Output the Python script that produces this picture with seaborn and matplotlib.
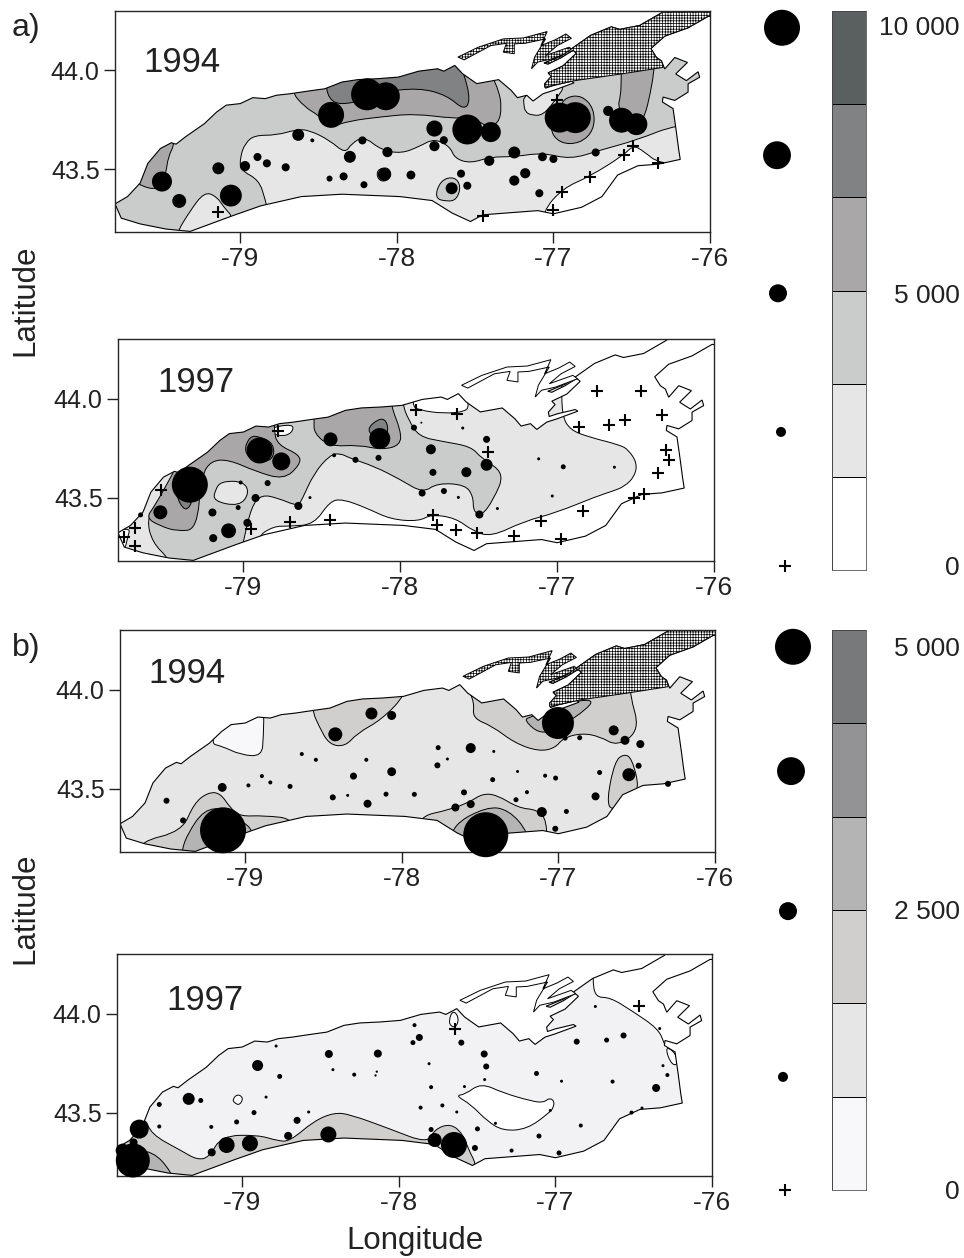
import numpy as np
import matplotlib
matplotlib.use('Agg')
import matplotlib.pyplot as plt
import seaborn as sns
from matplotlib.colors import ListedColormap
from matplotlib.patches import Polygon, PathPatch
from matplotlib.path import Path

# Lake Ontario outline and the two land shapes (lon, lat)
shore = [(-79.80,43.325),(-79.72,43.362),(-79.64,43.43),(-79.59,43.53),(-79.51,43.605),(-79.44,43.634),(-79.41,43.627),
         (-79.35,43.664),(-79.23,43.73),(-79.15,43.79),(-79.09,43.824),(-79.00,43.832),(-78.92,43.862),(-78.84,43.857),
         (-78.77,43.874),(-78.68,43.882),(-78.56,43.896),(-78.46,43.907),(-78.35,43.941),(-78.25,43.953),(-78.12,43.958),
         (-77.99,43.966),(-77.86,43.996),(-77.74,44.008),(-77.70,43.996),(-77.63,44.025),(-77.58,43.983),(-77.49,43.933),
         (-77.35,43.953),(-77.27,43.899),(-77.23,43.862),(-77.17,43.874),(-77.13,43.845),(-77.066,43.882),(-77.002,43.898),
         (-76.868,43.937),(-76.885,43.945),(-77.002,43.923),(-77.051,43.91),(-77.056,43.932),(-77.013,43.97),(-77.034,43.987),
         (-76.938,44.023),(-76.853,44.087),(-76.875,44.102),(-76.949,44.065),(-77.034,44.032),(-77.06,44.037),(-76.949,44.073),
         (-76.762,44.177),(-76.63,44.22),(-76.577,44.207),(-76.449,44.227),(-76.304,44.293),(-76.26,44.33),(-75.97,44.33),
         (-75.97,44.27),(-76.012,44.273),(-76.14,44.215),(-76.289,44.173),(-76.378,44.11),(-76.342,44.065),(-76.31,44.048),
         (-76.289,44.007),(-76.225,44.065),(-76.144,44.04),(-76.219,43.982),(-76.151,43.948),(-76.076,43.993),(-76.066,43.965),
         (-76.14,43.932),(-76.14,43.89),(-76.225,43.848),(-76.30,43.865),(-76.304,43.84),(-76.236,43.807),(-76.215,43.69),
         (-76.20,43.60),(-76.19,43.55),(-76.33,43.526),(-76.46,43.518),(-76.59,43.471),(-76.69,43.362),(-76.82,43.308),(-77.00,43.275),
         (-77.10,43.291),(-77.45,43.27),(-77.53,43.236),(-77.645,43.278),(-77.775,43.342),(-77.98,43.362),(-78.35,43.374),
         (-78.61,43.362),(-78.87,43.315),(-79.05,43.265),(-79.32,43.186),(-79.475,43.198),(-79.64,43.224),(-79.76,43.253)]
county = [(-77.056,43.915),(-77.056,43.932),(-77.013,43.97),(-77.034,43.987),(-76.938,44.023),(-76.853,44.087),(-76.875,44.102),
          (-76.949,44.065),(-77.034,44.032),(-77.06,44.037),(-76.949,44.073),(-76.762,44.177),(-76.63,44.22),(-76.577,44.207),
          (-76.449,44.227),(-76.304,44.293),(-76.26,44.33),(-75.97,44.33),(-75.97,44.27),(-76.012,44.273),(-76.14,44.215),
          (-76.289,44.173),(-76.378,44.11),(-76.342,44.065),(-76.31,44.048),(-76.298,44.015),(-76.565,43.982),(-76.863,43.948)]
bay = [(-77.61,44.067),(-77.48,44.117),(-77.32,44.159),(-77.19,44.164),(-77.04,44.196),(-77.08,44.125),(-76.99,44.154),
       (-76.92,44.184),(-76.885,44.162),(-76.975,44.125),(-77.05,44.075),(-76.90,44.117),(-76.87,44.10),(-77.01,44.058),
       (-77.10,44.042),(-77.14,44.008),(-77.12,44.067),(-77.05,44.159),(-77.18,44.137),(-77.25,44.134),(-77.25,44.084),
       (-77.32,44.092),(-77.30,44.137),(-77.40,44.125),(-77.57,44.053)]

# a) 1994 contours
a94_low = [(-77.07,43.286),(-76.94,43.404),(-76.77,43.463),(-76.55,43.572),(-76.49,43.622),(-76.42,43.589),(-76.33,43.53),
           (-76.0,43.5),(-75.9,44.35),(-79.9,44.35),(-79.9,43.15),(-77.07,43.15)]
a94_mid = [(-78.82,43.278),(-78.84,43.345),(-78.88,43.446),(-79.00,43.496),(-79.00,43.563),(-78.97,43.63),(-78.91,43.672),
           (-78.77,43.672),(-78.64,43.701),(-78.56,43.698),(-78.43,43.647),(-78.33,43.58),(-78.29,43.63),(-78.21,43.667),
           (-78.10,43.597),(-77.97,43.58),(-77.86,43.614),(-77.76,43.656),(-77.66,43.614),(-77.63,43.555),(-77.53,43.53),
           (-77.40,43.563),(-77.25,43.563),(-77.07,43.584),(-76.89,43.55),(-76.70,43.597),(-76.47,43.647),(-76.21,43.728),
           (-75.9,43.73),(-75.9,44.35),(-79.9,44.35),(-79.9,43.15),(-78.82,43.15)]
a94_sw_low = [(-79.40,43.186),(-79.33,43.278),(-79.23,43.387),(-79.15,43.362),(-79.10,43.303),(-79.04,43.253),(-79.13,43.15),(-79.40,43.15)]
a94_ne_low = [(-77.19,43.87),(-77.19,43.83),(-77.18,43.79),(-77.14,43.773),(-77.065,43.773),(-76.98,43.857),(-76.92,43.93),(-77.03,43.95)]
a94_isle1 = [(-77.76,43.354),(-77.72,43.446),(-77.63,43.463),(-77.59,43.412),(-77.62,43.345),(-77.68,43.337)]
a94_isle2 = [(-78.13,43.496),(-78.06,43.513),(-78.03,43.471),(-78.07,43.437),(-78.12,43.446)]
a94_high = [(-78.68,43.899),(-78.59,43.815),(-78.50,43.773),(-78.42,43.714),(-78.30,43.745),(-78.10,43.765),(-77.89,43.781),
            (-77.63,43.756),(-77.57,43.765),(-77.53,43.773),(-77.43,43.714),(-77.35,43.731),(-77.33,43.815),(-77.35,43.899),
            (-77.39,43.966),(-77.39,44.10),(-78.68,44.10)]
a94_top = [(-78.46,43.933),(-78.42,43.832),(-78.28,43.832),(-78.10,43.89),(-77.86,43.912),(-77.68,43.874),(-77.57,43.798),
           (-77.53,43.849),(-77.57,43.983),(-77.63,44.10),(-78.46,44.10)]
a94_east = [(-76.565,44.10),(-76.567,43.96),(-76.57,43.873),(-76.592,43.807),(-76.47,43.689),(-76.415,43.773),(-76.384,43.873),
            (-76.358,43.99),(-76.35,44.10)]
a94_oval = [(-76.96,43.815),(-76.92,43.865),(-76.82,43.874),(-76.74,43.807),(-76.74,43.698),(-76.83,43.63),(-76.96,43.63),(-77.03,43.706)]
a94_west = [(-79.75,43.513),(-79.66,43.42),(-79.51,43.392),(-79.475,43.48),(-79.46,43.563),(-79.42,43.627),(-79.44,43.656)]

a94_lon = [-79.50,-79.39,-79.14,-79.06,-78.97,-78.89,-78.83,-78.71,-78.63,-78.54,-78.43,-78.34,-78.30,-78.42,-78.19,-78.07,
           -78.22,-78.06,-78.21,-78.08,-77.91,-77.76,-77.76,-77.70,-77.59,-77.55,-77.65,-77.55,-77.40,-77.41,-77.25,-77.07,
           -77.00,-77.18,-77.25,-77.09,-76.73,-76.96,-76.86,-76.65,-76.565,-76.47]
a94_lat = [43.438,43.34,43.505,43.367,43.516,43.562,43.53,43.51,43.674,43.646,43.453,43.464,43.563,43.775,43.879,43.869,
           43.646,43.587,43.422,43.474,43.471,43.706,43.617,43.647,43.478,43.417,43.404,43.701,43.688,43.543,43.585,43.563,
           43.552,43.48,43.443,43.379,43.585,43.761,43.761,43.795,43.748,43.728]
a94_val = [3100,1500,1100,3700,800,500,500,500,1100,120,280,500,1100,5200,7900,6000,
           500,800,380,1300,600,2000,800,500,500,500,1100,6900,3100,800,1100,600,
           500,800,800,500,500,6900,7400,800,4800,3700]
a94_zero_lon = [-79.14,-77.45,-77.00,-76.945,-76.765,-76.55,-76.49,-76.33,-76.98]
a94_zero_lat = [43.283,43.266,43.295,43.387,43.463,43.572,43.617,43.53,43.852]

# a) 1997 contours
a97_low = [(-76.97,43.917),(-76.918,43.842),(-76.79,43.805),(-76.60,43.767),(-76.545,43.742),(-76.49,43.675),(-76.506,43.609),
           (-76.57,43.558),(-76.648,43.534),(-76.75,43.508),
           (-77.01,43.425),(-77.21,43.383),(-77.42,43.305),(-77.535,43.333),(-77.65,43.40),(-77.805,43.417),(-77.88,43.383),
           (-78.06,43.392),(-78.216,43.45),(-78.37,43.495),(-78.45,43.483),(-78.55,43.367),(-78.705,43.358),(-78.81,43.358),
           (-78.92,43.30),(-78.92,43.14),(-79.91,43.14),(-79.91,44.35),(-77.93,44.342),(-77.93,43.967),(-77.88,43.942),
           (-77.727,43.925),(-77.586,43.934),(-77.56,43.967),(-77.60,44.09),(-76.97,44.09)]
a97_white = [(-78.86,43.847),(-78.77,43.808),(-78.69,43.825),(-78.68,43.875)]
a97_tip = [(-79.82,43.33),(-79.72,43.35),(-79.74,43.30),(-79.755,43.24),(-79.82,43.24)]
a97_mid = [(-77.985,43.967),(-77.946,43.892),(-77.882,43.809),(-77.728,43.784),(-77.548,43.759),(-77.483,43.70),(-77.334,43.625),
           (-77.406,43.492),(-77.483,43.408),(-77.535,43.434),(-77.535,43.508),(-77.586,43.567),(-77.766,43.575),(-77.856,43.525),
           (-77.998,43.592),(-78.165,43.659),(-78.32,43.70),(-78.383,43.725),(-78.448,43.717),(-78.55,43.625),(-78.627,43.492),
           (-78.653,43.458),(-78.782,43.50),(-78.885,43.517),(-78.949,43.458),(-79.00,43.283),(-79.04,43.142),(-79.476,43.142),
           (-79.476,43.195),(-79.58,43.275),(-79.617,43.392),(-79.553,43.475),(-79.489,43.558),(-79.437,43.625),(-79.437,44.09),
           (-77.985,44.09)]
a97_hole = [(-79.18,43.542),(-79.142,43.584),(-79.0,43.584),(-78.962,43.525),(-79.026,43.458),(-79.193,43.484)]
a97_north = [(-78.55,43.892),(-78.55,43.825),(-78.448,43.759),(-78.268,43.767),(-78.113,43.742),(-77.998,43.767),(-77.998,43.842),
             (-78.062,43.967),(-78.062,44.09),(-78.55,44.09)]
a97_west = [(-78.807,43.842),(-78.782,43.767),(-78.64,43.717),(-78.64,43.667),(-78.743,43.592),(-78.923,43.634),(-79.09,43.692),
            (-79.206,43.689),(-79.27,43.608),(-79.296,43.342),(-79.424,43.333),(-79.527,43.358),(-79.622,43.40),(-79.566,43.459),
            (-79.45,43.625),(-79.45,44.09),(-78.807,44.09)]
a97_peak1 = [(-78.96,43.812),(-79.0,43.734),(-78.923,43.675),(-78.807,43.692),(-78.807,43.775),(-78.897,43.809)]
a97_peak2 = [(-78.22,43.842),(-78.139,43.90),(-78.088,43.892),(-78.075,43.825),(-78.139,43.792)]
a97_peak3 = [(-79.437,43.525),(-79.373,43.425),(-79.316,43.492),(-79.316,43.625),(-79.424,43.625)]

a97_lon = [-79.342,-79.53,-79.656,-79.198,-79.193,-79.095,-79.018,-79.034,-78.975,-78.923,-78.846,-78.897,-78.759,-78.65,-78.576,
           -78.445,-78.422,-78.286,-78.139,-78.131,-77.913,-77.866,-77.602,-77.45,-77.805,-77.792,-77.579,-77.45,-77.861,-77.722,
           -77.63,-77.496,-77.381,-77.118,-76.961,-76.635,-77.031]
a97_lat = [43.567,43.428,43.415,43.427,43.298,43.335,43.578,43.452,43.375,43.50,43.575,43.739,43.684,43.46,43.502,
           43.795,43.715,43.692,43.702,43.799,43.854,43.879,43.852,43.795,43.745,43.629,43.63,43.667,43.525,43.535,
           43.503,43.417,43.447,43.697,43.657,43.655,43.51]
a97_val = [10000,1500,190,500,500,1700,120,190,500,500,280,5200,2500,500,70,
           1500,120,280,280,3400,280,30,70,380,770,380,770,1100,380,280,
           70,500,70,70,190,70,70]
a97_zero_lon = [-79.759,-79.694,-79.694,-79.527,-78.949,-78.705,-78.448,-78.782,-77.90,-77.638,-77.44,-77.792,-77.766,-77.645,-77.509,
                -77.278,-77.103,-76.974,-76.835,-76.512,-76.447,-76.357,-76.285,-76.308,-76.332,-76.465,-76.745,-76.861,-76.671,-76.565]
a97_zero_lat = [43.305,43.35,43.258,43.542,43.342,43.38,43.388,43.837,43.945,43.922,43.73,43.415,43.362,43.337,43.322,
                43.308,43.383,43.295,43.437,43.50,43.522,43.624,43.689,43.739,43.92,44.04,44.037,43.857,43.865,43.89]

# b) 1994 contours
b94_white = [(-79.23,43.73),(-79.10,43.90),(-78.88,43.92),(-78.884,43.765),(-78.894,43.664),(-79.03,43.672),(-79.147,43.715)]
b94_north = [(-78.575,43.899),(-78.529,43.815),(-78.464,43.723),(-78.361,43.714),(-78.284,43.781),(-78.129,43.849),(-77.97,43.979),
             (-77.97,44.10),(-78.575,44.10)]
b94_ne = [(-77.588,44.025),(-77.536,43.933),(-77.549,43.857),(-77.42,43.815),(-77.279,43.731),(-77.124,43.689),(-77.021,43.706),
          (-76.97,43.756),(-76.854,43.781),(-76.737,43.765),(-76.622,43.714),(-76.48,43.798),(-76.544,43.974),(-76.544,44.10),(-77.588,44.10)]
b94_ne_in = [(-77.227,43.849),(-77.098,43.765),(-76.905,43.849),(-76.738,43.963),(-77.047,43.916),(-77.163,43.865)]
b94_east = [(-76.64,43.639),(-76.583,43.676),(-76.531,43.656),(-76.48,43.496),(-76.557,43.454),(-76.66,43.387),(-76.691,43.446)]
b94_sw = [(-79.675,43.236),(-79.405,43.286),(-79.327,43.429),(-79.237,43.483),(-79.16,43.48),(-79.095,43.404),(-79.031,43.362),
          (-78.889,43.367),(-78.67,43.349),(-78.67,43.144),(-79.675,43.144)]
b94_sw_in = [(-79.405,43.194),(-79.366,43.278),(-79.263,43.396),(-79.134,43.404),(-79.031,43.345),(-78.941,43.286),(-78.941,43.144),(-79.405,43.144)]
b94_se = [(-77.91,43.359),(-77.691,43.396),(-77.562,43.437),(-77.485,43.476),(-77.395,43.471),(-77.253,43.404),(-77.137,43.396),
          (-77.073,43.345),(-77.073,43.144),(-77.91,43.144)]
b94_se_in = [(-77.691,43.312),(-77.459,43.412),(-77.317,43.396),(-77.188,43.278),(-77.188,43.144),(-77.691,43.144)]

b94_lon = [-79.503,-79.397,-79.147,-79.142,-78.98,-78.894,-78.84,-78.714,-78.639,-78.549,-78.425,-78.194,-78.065,-78.227,-78.065,
           -78.309,-78.441,-78.346,-78.219,-78.101,-77.92,-77.768,-77.773,-77.709,-77.56,-77.413,-77.42,-77.261,-77.085,-77.018,
           -77.201,-77.271,-77.603,-77.658,-77.56,-77.464,-77.106,-76.949,-77.02,-77.003,-76.957,-76.864,-76.647,-76.575,-76.477,
           -76.488,-76.55,-76.737,-76.763,-76.30]
b94_lat = [43.441,43.342,43.508,43.292,43.518,43.565,43.533,43.513,43.676,43.647,43.775,43.88,43.87,43.647,43.587,
           43.565,43.458,43.468,43.426,43.474,43.473,43.708,43.619,43.651,43.706,43.689,43.547,43.588,43.567,43.555,
           43.484,43.446,43.483,43.407,43.424,43.27,43.384,43.387,43.30,43.832,43.756,43.758,43.795,43.745,43.726,
           43.617,43.572,43.583,43.463,43.526]
b94_val = [139,139,300,8160,62,62,62,96,62,62,756,555,312,62,300,
           190,139,35,247,96,96,96,139,35,386,35,96,35,62,96,
           62,96,139,247,247,7800,386,96,139,3950,96,96,386,312,247,
           139,650,96,247,139]

# b) 1997 contours
b97_low = [(-76.762,44.177),(-76.747,44.082),(-76.651,44.082),(-76.513,44.015),(-76.342,43.923),(-76.304,43.848),
           (-75.9,43.842),(-75.9,43.14),(-79.95,43.14),(-79.95,44.35),(-76.762,44.35)]
b97_hole1 = [(-76.30,43.837),(-76.232,43.803),(-76.219,43.737),(-76.267,43.751)]
b97_hole2 = [(-77.637,43.588),(-77.578,43.593),(-77.475,43.651),(-77.334,43.601),(-77.154,43.56),(-77.077,43.552),(-77.038,43.576),
             (-77.007,43.56),(-77.013,43.527),(-77.038,43.502),(-77.18,43.419),(-77.334,43.41),(-77.437,43.46),(-77.54,43.543)]
b97_hole3 = [(-79.062,43.568),(-79.031,43.596),(-78.992,43.576),(-79.018,43.538),(-79.051,43.552)]
b97_hole4 = [(-77.681,43.967),(-77.655,44.017),(-77.617,43.983),(-77.63,43.934),(-77.668,43.934)]
b97_band = [(-79.905,43.485),(-79.905,43.14),(-77.501,43.14),(-77.509,43.248),(-77.552,43.311),(-77.591,43.394),(-77.668,43.447),
            (-77.771,43.419),(-77.817,43.347),(-78.054,43.419),(-78.311,43.493),(-78.414,43.502),(-78.542,43.46),(-78.697,43.357),
            (-78.774,43.36),(-78.902,43.39),(-79.134,43.385),(-79.211,43.277),(-79.288,43.264),(-79.391,43.311),(-79.584,43.394),
            (-79.622,43.485)]
b97_tip = [(-79.751,43.311),(-79.571,43.311),(-79.447,43.198),(-79.447,43.14),(-79.751,43.14)]

b97_lon = [-79.699,-79.764,-79.694,-79.658,-79.53,-79.53,-79.342,-79.265,-79.198,-79.195,-79.10,-78.951,-79.036,-78.925,-78.848,
           -78.65,-78.576,-78.707,-78.45,-78.902,-78.761,-78.784,-78.447,-78.421,-78.285,-78.134,-78.141,-78.149,-77.90,-77.869,
           -77.91,-77.601,-77.455,-77.442,-77.807,-77.794,-77.581,-77.452,-77.861,-77.722,-77.63,-77.498,-77.794,-77.771,-77.648,
           -77.514,-77.383,-77.28,-77.105,-76.977,-76.838,-77.121,-76.961,-76.635,-77.033,-76.745,-76.864,-76.673,-76.565,-76.334,
           -76.313,-76.285,-76.357,-76.514,-76.447]
b97_lat = [43.261,43.311,43.352,43.419,43.543,43.432,43.571,43.563,43.43,43.302,43.339,43.347,43.455,43.502,43.58,
           43.463,43.505,43.385,43.392,43.739,43.684,43.837,43.797,43.718,43.693,43.799,43.708,43.689,43.942,43.88,
           43.854,43.854,43.797,43.734,43.748,43.63,43.633,43.668,43.527,43.538,43.505,43.42,43.417,43.364,43.339,
           43.324,43.448,43.311,43.384,43.299,43.437,43.699,43.66,43.658,43.513,44.036,43.859,43.867,43.89,43.925,
           43.738,43.691,43.626,43.502,43.525]
b97_val = [4460,750,247,1390,96,62,555,96,62,247,988,988,96,96,35,
           190,35,247,988,470,96,35,247,35,62,247,20,20,62,190,
           96,139,190,139,35,62,35,35,62,62,35,96,96,756,2600,
           139,35,62,96,96,62,96,35,62,35,35,139,96,139,35,
           35,62,247,62,35]
b97_zero_lon = [-77.643,-76.465]
b97_zero_lat = [43.925,44.04]

# scale legends
a_colors = ['#5a5f60', '#808284', '#a9a7a8', '#cacccb', '#e6e6e6', '#ffffff']
b_colors = ['#77797a', '#939395', '#b4b4b4', '#d0cfcd', '#e6e6e6', '#f8f8fa']
a_key_vals = [10000, 6000, 2500, 770]
b_key_vals = [5000, 3000, 1250, 385]
a_scale_labels = ['10 000', '5 000', '0']
b_scale_labels = ['5 000', '2 500', '0']
lat_ticks = [44.0, 43.5]
lon_ticks = [-79, -78, -77, -76]

W, H = 964, 1258
TEXT = '#222222'
TOP_AREA = 672  # marker area (pt^2) of the largest key circle

sns.set_style('ticks')
plt.rcParams['font.family'] = ['Liberation Sans', 'DejaVu Sans']
plt.rcParams['hatch.linewidth'] = 0.5


def px_axes(fig, left, top, right, bottom):
    return fig.add_axes([left / W, 1 - bottom / H, (right - left) / W, (bottom - top) / H])


def contour_path(pts):
    # round the contour lines, but keep the corners that lie far outside the lake
    pts = np.array(pts, dtype=float)
    n = len(pts)
    verts = [(pts[-1] + pts[0]) / 2]
    codes = [Path.MOVETO]
    for i in range(n):
        p, nxt, prev = pts[i], pts[(i + 1) % n], pts[i - 1]
        longest = max(np.hypot(*(p - nxt)), np.hypot(*(p - prev)))
        codes += [Path.LINETO, Path.LINETO] if longest > 0.4 else [Path.CURVE3, Path.CURVE3]
        verts += [p, (p + nxt) / 2]
    return Path(verts, codes)


def draw_circles(ax, x, y, val, vmax, **kws):
    # seaborn clips at the norm limits, so leave room above the key's top class
    sns.scatterplot(x=x, y=y, size=val, sizes=(0, TOP_AREA * 2), size_norm=(0, vmax * 2), color='black',
                    linewidth=0, legend=False, clip_on=False, ax=ax, **kws)


def draw_zones(ax, base, zones):
    outline = Polygon(shore, closed=True, facecolor=base, edgecolor='none', zorder=1)
    ax.add_patch(outline)
    for color, pts in zones:
        patch = PathPatch(contour_path(pts), facecolor=color, edgecolor='black', lw=0.7, zorder=1.5)
        ax.add_patch(patch)
        patch.set_clip_path(outline)
    ax.add_patch(Polygon(shore, closed=True, facecolor='none', edgecolor='black', lw=0.8, zorder=2))


def draw_map(ax, base, zones, year, year_pos, lon, lat, val, vmax, zero=None, hatched=False):
    draw_zones(ax, base, zones)
    style = dict(facecolor='white', edgecolor='black', lw=0.7, zorder=2.2)
    ax.add_patch(Polygon(bay, closed=True, hatch='++++++' if hatched else None, **style))
    if hatched:
        ax.add_patch(Polygon(county, closed=True, hatch='++++++', **style))
    draw_circles(ax, lon, lat, val, vmax, zorder=5)
    if zero is not None:
        sns.scatterplot(x=zero[0], y=zero[1], marker='+', s=75, color='black', linewidth=1.5,
                        legend=False, zorder=5, ax=ax)
    ax.set_xlim(-79.8, -76)
    ax.set_ylim(43.183, 44.30)
    ax.set_xticks(lon_ticks)
    ax.set_xticklabels([str(v) for v in lon_ticks])
    ax.set_yticks(lat_ticks)
    ax.set_yticklabels([f'{v:.1f}' for v in lat_ticks])
    ax.tick_params(length=8, width=1, colors=TEXT)
    ax.tick_params(axis='x', labelsize=19, pad=3)
    ax.tick_params(axis='y', labelsize=18, pad=3)
    for s in ax.spines.values():
        s.set_visible(True)
        s.set_linewidth(1)
    ax.text(year_pos[0], year_pos[1], year, fontsize=25, color=TEXT, ha='center', va='center', zorder=6)


def draw_key(fig, top, bottom, colors, labels, label_y, key_vals, key_y, key_x, plus_y, vmax):
    cax = px_axes(fig, 832, top, 866, bottom)
    sns.heatmap(np.arange(6).reshape(6, 1), cmap=ListedColormap(colors), cbar=False, linewidths=0.6,
                linecolor='black', xticklabels=False, yticklabels=False, ax=cax)
    for s in cax.spines.values():
        s.set_visible(True)
        s.set_linewidth(0.6)
        s.set_color('#555555')
    for txt, y in zip(labels, label_y):
        cax.text(3.76, y, txt, fontsize=19, color=TEXT, ha='right', va='center', clip_on=False)
    kax = px_axes(fig, 745, top, 830, bottom)
    draw_circles(kax, key_x[:4], key_y, key_vals, vmax)
    sns.scatterplot(x=key_x[4:], y=[plus_y], marker='+', s=75, color='black', linewidth=1.5, legend=False,
                    clip_on=False, ax=kax)
    kax.set_xlim(0, 85)
    kax.set_ylim(0, vmax)
    kax.axis('off')


fig = plt.figure(figsize=(W / 100, H / 100), dpi=100)

ax = px_axes(fig, 115, 11, 710, 232)
zones = [(a_colors[4], a94_low), (a_colors[3], a94_mid), (a_colors[4], a94_sw_low), (a_colors[4], a94_ne_low),
         (a_colors[3], a94_isle1), (a_colors[3], a94_isle2), (a_colors[2], a94_high), (a_colors[1], a94_top),
         (a_colors[2], a94_east), (a_colors[2], a94_oval), (a_colors[2], a94_west)]
draw_map(ax, 'white', zones, '1994', (-79.37, 44.04), a94_lon, a94_lat, a94_val, 10000, (a94_zero_lon, a94_zero_lat), hatched=True)

ax = px_axes(fig, 118, 339, 714, 561)
zones = [(a_colors[4], a97_low), ('white', a97_tip), (a_colors[3], a97_mid), ('white', a97_white), (a_colors[4], a97_hole),
         (a_colors[2], a97_north), (a_colors[2], a97_west), (a_colors[1], a97_peak1), (a_colors[1], a97_peak2),
         (a_colors[1], a97_peak3)]
draw_map(ax, 'white', zones, '1997', (-79.30, 44.08), a97_lon, a97_lat, a97_val, 10000, (a97_zero_lon, a97_zero_lat))

ax = px_axes(fig, 120, 630, 715, 852)
zones = [(b_colors[5], b94_white), (b_colors[3], b94_north), (b_colors[3], b94_ne),
         (b_colors[2], b94_ne_in), (b_colors[3], b94_east), (b_colors[3], b94_sw), (b_colors[2], b94_sw_in),
         (b_colors[3], b94_se), (b_colors[2], b94_se_in)]
draw_map(ax, b_colors[4], zones, '1994', (-79.37, 44.08), b94_lon, b94_lat, b94_val, 5000, hatched=True)

ax = px_axes(fig, 117, 954, 712, 1176)
zones = [('#f2f2f4', b97_low), ('white', b97_hole1), ('white', b97_hole2), ('white', b97_hole3), ('white', b97_hole4),
         (b_colors[3], b97_band), (b_colors[2], b97_tip)]
draw_map(ax, 'white', zones, '1997', (-79.24, 44.065), b97_lon, b97_lat, b97_val, 5000, (b97_zero_lon, b97_zero_lat))

draw_key(fig, 11, 570, a_colors, a_scale_labels, [0.18, 3.06, 5.98], a_key_vals,
         [9700, 7420, 4950, 2470], [37, 32, 33, 36, 40], 70, 10000)
draw_key(fig, 630, 1190, b_colors, b_scale_labels, [0.2, 3.02, 6.02], b_key_vals,
         [4850, 3740, 2490, 1010], [48, 46, 43, 38, 40], 0, 5000)

fig.text(12 / W, 1 - 28 / H, 'a)', fontsize=23, color=TEXT, ha='left', va='center')
fig.text(12 / W, 1 - 648 / H, 'b)', fontsize=23, color=TEXT, ha='left', va='center')
fig.text(25 / W, 1 - 300 / H, 'Latitude', fontsize=22.5, color=TEXT, rotation=90, ha='center', va='center')
fig.text(25 / W, 1 - 908 / H, 'Latitude', fontsize=22.5, color=TEXT, rotation=90, ha='center', va='center')
fig.text(415 / W, 1 - 1241 / H, 'Longitude', fontsize=22.5, color=TEXT, ha='center', va='center')

fig.savefig('out.png', dpi=100)
